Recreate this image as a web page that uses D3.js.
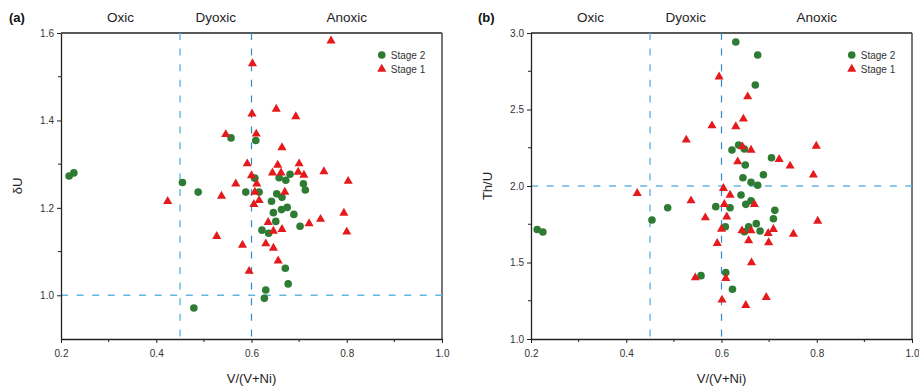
<!DOCTYPE html>
<html>
<head>
<meta charset="utf-8">
<script src="https://cdn.jsdelivr.net/npm/d3@7"></script>
<style>
  html, body { margin: 0; padding: 0; background: #fff; }
  svg { display: block; font-family: Arial, "Liberation Sans", Helvetica, sans-serif; }
</style>
</head>
<body>
<svg id="chart" width="919" height="386"></svg>
<script>
// Redox zone labels shown above each panel
const zoneLabels = ["Oxic", "Dyoxic", "Anoxic"];
const zoneLabelX = [0.325, 0.525, 0.8];

// Axis ticks
const xTicks = [0.2, 0.4, 0.6, 0.8, 1.0];
const xMinor = [0.3, 0.5, 0.7, 0.9];
const yTicksA = [1.0, 1.2, 1.4, 1.6];
const yMinorA = [1.1, 1.3, 1.5];
const yTicksB = [1.0, 1.5, 2.0, 2.5, 3.0];
const yMinorB = [1.25, 1.75, 2.25, 2.75];

// Threshold lines
const xThresholds = [0.45, 0.6];
const yThresholdA = 1.0;
const yThresholdB = 2.0;

// Panel (a): V/(V+Ni) vs δU
const stage2A = [
  [0.217, 1.273], [0.227, 1.280], [0.455, 1.258], [0.488, 1.236], [0.557, 1.360],
  [0.609, 1.354], [0.607, 1.268], [0.588, 1.236], [0.616, 1.236], [0.658, 1.269],
  [0.672, 1.263], [0.681, 1.277], [0.709, 1.255], [0.713, 1.241], [0.642, 1.215],
  [0.653, 1.232], [0.664, 1.224], [0.646, 1.189], [0.663, 1.196], [0.675, 1.201],
  [0.689, 1.185], [0.651, 1.169], [0.702, 1.158], [0.622, 1.149], [0.636, 1.142],
  [0.671, 1.062], [0.677, 1.026], [0.630, 1.012], [0.627, 0.993], [0.479, 0.971]
];
const stage1A = [
  [0.767, 1.582], [0.602, 1.530], [0.601, 1.415], [0.652, 1.426], [0.693, 1.409],
  [0.546, 1.368], [0.610, 1.369], [0.664, 1.338], [0.591, 1.301], [0.655, 1.298],
  [0.700, 1.301], [0.600, 1.274], [0.644, 1.280], [0.662, 1.280], [0.698, 1.282],
  [0.710, 1.275], [0.752, 1.283], [0.803, 1.261], [0.567, 1.255], [0.611, 1.255],
  [0.537, 1.227], [0.607, 1.236], [0.670, 1.236], [0.424, 1.215], [0.605, 1.208],
  [0.616, 1.217], [0.635, 1.167], [0.646, 1.147], [0.664, 1.151], [0.527, 1.135],
  [0.581, 1.115], [0.630, 1.118], [0.646, 1.108], [0.656, 1.079], [0.595, 1.055],
  [0.794, 1.188], [0.745, 1.174], [0.721, 1.164], [0.800, 1.145]
];

// Panel (b): V/(V+Ni) vs Th/U
const stage2B = [
  [0.213, 1.716], [0.225, 1.699], [0.630, 2.941], [0.676, 2.856], [0.671, 2.660],
  [0.636, 2.268], [0.622, 2.235], [0.648, 2.242], [0.705, 2.185], [0.650, 2.137],
  [0.645, 2.054], [0.688, 2.074], [0.662, 2.024], [0.676, 2.005], [0.641, 1.941],
  [0.618, 1.858], [0.651, 1.880], [0.662, 1.904], [0.712, 1.841], [0.709, 1.786],
  [0.673, 1.754], [0.657, 1.734], [0.648, 1.701], [0.681, 1.706], [0.623, 1.325],
  [0.487, 1.858], [0.454, 1.778], [0.588, 1.865], [0.608, 1.734], [0.609, 1.434],
  [0.557, 1.414]
];
const stage1B = [
  [0.595, 2.714], [0.580, 2.394], [0.630, 2.388], [0.526, 2.301], [0.634, 2.159],
  [0.655, 2.584], [0.646, 2.438], [0.799, 2.261], [0.644, 2.257], [0.662, 2.235],
  [0.721, 2.174], [0.744, 2.131], [0.793, 2.072], [0.618, 1.941], [0.669, 1.880],
  [0.802, 1.771], [0.643, 1.708], [0.662, 1.708], [0.709, 1.717], [0.698, 1.691],
  [0.751, 1.686], [0.657, 1.643], [0.699, 1.630], [0.663, 1.499], [0.694, 1.272],
  [0.651, 1.220], [0.423, 1.952], [0.536, 1.904], [0.566, 1.793], [0.604, 1.985],
  [0.606, 1.880], [0.611, 1.799], [0.600, 1.719], [0.591, 1.625], [0.609, 1.397],
  [0.545, 1.401], [0.601, 1.255]
];

const legendLabels = ["Stage 2", "Stage 1"];
const GREEN = "#2e7b34";
const RED = "#e41a1c";
const DASH_LIGHT = "#62b6e6";
const DASH_DARK = "#3489cc";

const svg = d3.select("#chart");

function panel(opt) {
  const x = d3.scaleLinear().domain([0.2, 1.0]).range([opt.left, opt.right]);
  const y = d3.scaleLinear().domain(opt.yDomain).range([339, 33]);
  const g = svg.append("g");

  // frame: top and right borders
  g.append("line").attr("x1", x(0.2)).attr("x2", x(1.0)).attr("y1", y.range()[1]).attr("y2", y.range()[1])
    .attr("stroke", "#222").attr("stroke-width", 1.3);
  g.append("line").attr("x1", x(1.0)).attr("x2", x(1.0)).attr("y1", y.range()[0]).attr("y2", y.range()[1])
    .attr("stroke", "#555").attr("stroke-width", 1.6);

  // threshold lines
  g.append("line").attr("x1", x(xThresholds[0])).attr("x2", x(xThresholds[0]))
    .attr("y1", y.range()[1]).attr("y2", y.range()[0])
    .attr("stroke", DASH_LIGHT).attr("stroke-width", 1.4).attr("stroke-dasharray", "7,8.6");
  g.append("line").attr("x1", x(xThresholds[1])).attr("x2", x(xThresholds[1]))
    .attr("y1", y.range()[1]).attr("y2", y.range()[0])
    .attr("stroke", DASH_DARK).attr("stroke-width", 1.2).attr("stroke-dasharray", "7,8.6");
  g.append("line").attr("x1", x(0.2)).attr("x2", x(1.0))
    .attr("y1", y(opt.yThreshold)).attr("y2", y(opt.yThreshold))
    .attr("stroke", DASH_LIGHT).attr("stroke-width", 1.4).attr("stroke-dasharray", "7,8.6");

  // bottom axis
  const xAxis = g.append("g").attr("transform", `translate(0,${y.range()[0]})`)
    .call(d3.axisBottom(x).tickValues(xTicks).tickFormat(d3.format(".1f")).tickSize(4).tickSizeOuter(0));
  xAxis.select(".domain").attr("stroke", "#222").attr("stroke-width", 1.3);
  xAxis.selectAll(".tick line").attr("stroke", "#222");
  xAxis.selectAll("text").attr("fill", "#333").attr("font-size", 10).attr("dy", "1.1em");
  g.selectAll(".xminor").data(xMinor).enter().append("line")
    .attr("x1", d => x(d)).attr("x2", d => x(d))
    .attr("y1", y.range()[0]).attr("y2", y.range()[0] + 3)
    .attr("stroke", "#222");

  // left axis
  const yAxis = g.append("g").attr("transform", `translate(${opt.left},0)`)
    .call(d3.axisLeft(y).tickValues(opt.yTicks).tickFormat(d3.format(".1f")).tickSize(4).tickSizeOuter(0));
  yAxis.select(".domain").attr("stroke", "#222").attr("stroke-width", 1.3);
  yAxis.selectAll(".tick line").attr("stroke", "#222");
  yAxis.selectAll("text").attr("fill", "#333").attr("font-size", 10);
  g.selectAll(".yminor").data(opt.yMinor).enter().append("line")
    .attr("x1", opt.left - 3).attr("x2", opt.left)
    .attr("y1", d => y(d)).attr("y2", d => y(d))
    .attr("stroke", "#222");

  // points: Stage 2 circles, then Stage 1 triangles
  g.selectAll(".s2").data(opt.stage2).enter().append("circle")
    .attr("cx", d => x(d[0])).attr("cy", d => y(d[1])).attr("r", 3.8)
    .attr("fill", GREEN);
  const tri = d3.symbol().type(d3.symbolTriangle).size(36);
  g.selectAll(".s1").data(opt.stage1).enter().append("path")
    .attr("d", tri)
    .attr("transform", d => `translate(${x(d[0])},${y(d[1])})`)
    .attr("fill", RED);

  // zone labels
  g.selectAll(".zone").data(zoneLabels).enter().append("text")
    .attr("x", (d, i) => x(zoneLabelX[i])).attr("y", 22)
    .attr("text-anchor", "middle").attr("font-size", 13.5).attr("fill", "#222")
    .text(d => d);

  // panel tag
  g.append("text").attr("x", opt.tagX).attr("y", 22).attr("font-size", 13)
    .attr("font-weight", "bold").attr("fill", "#111").text(opt.tag);

  // axis titles
  g.append("text").attr("x", (opt.left + opt.right) / 2).attr("y", 383)
    .attr("text-anchor", "middle").attr("font-size", 13).attr("fill", "#222").text("V/(V+Ni)");
  g.append("text")
    .attr("transform", `translate(${opt.yTitleX},${186}) rotate(-90)`)
    .attr("text-anchor", "middle").attr("font-size", 13).attr("fill", "#222").text(opt.yTitle);

  // legend
  const lx = x(0.8) + 35, ly = 55;
  g.append("circle").attr("cx", lx).attr("cy", ly).attr("r", 3.8).attr("fill", GREEN);
  g.append("path").attr("d", tri).attr("transform", `translate(${lx},${ly + 14})`).attr("fill", RED);
  g.selectAll(".leg").data(legendLabels).enter().append("text")
    .attr("x", lx + 9).attr("y", (d, i) => ly + 4 + i * 14)
    .attr("font-size", 10).attr("fill", "#333").text(d => d);
}

panel({
  left: 61, right: 442, yDomain: [0.9, 1.6], yTicks: yTicksA, yMinor: yMinorA,
  yThreshold: yThresholdA, stage2: stage2A, stage1: stage1A,
  tag: "(a)", tagX: 9, yTitle: "δU", yTitleX: 22
});
panel({
  left: 531, right: 912, yDomain: [1.0, 3.0], yTicks: yTicksB, yMinor: yMinorB,
  yThreshold: yThresholdB, stage2: stage2B, stage1: stage1B,
  tag: "(b)", tagX: 478, yTitle: "Th/U", yTitleX: 492
});
</script>
</body>
</html>
